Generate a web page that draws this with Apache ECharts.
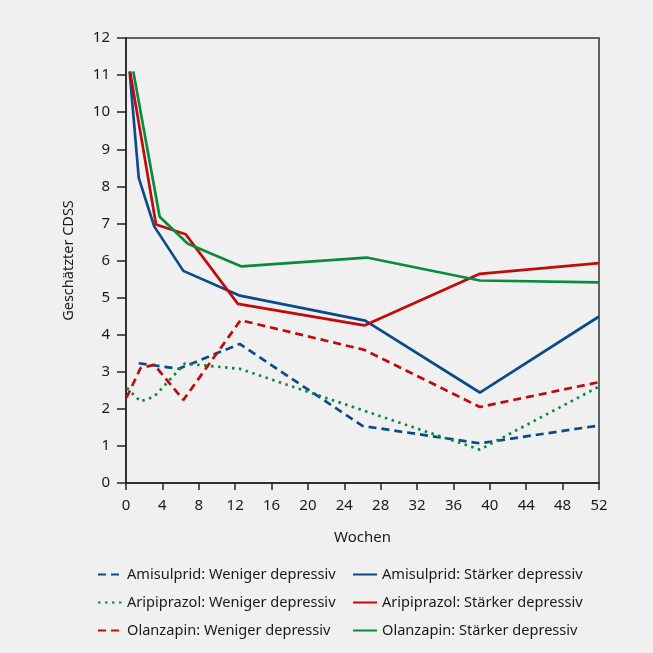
<!DOCTYPE html>
<html><head><meta charset="utf-8">
<script src="https://cdn.jsdelivr.net/npm/echarts@6/dist/echarts.min.js"></script>
<style>html,body{margin:0;padding:0;background:#f0f0f0;}#c{width:653px;height:653px;}</style>
</head><body><div id="c"></div>
<script>
// Data: [week, estimated CDSS]
const amisulpridWeniger = [[1.4,3.23],[5.8,3.08],[12.5,3.75],[26.0,1.54],[38.9,1.07],[52,1.55]];
const aripiprazolWeniger = [[0.1,2.56],[1.6,2.2],[3.1,2.33],[6.45,3.22],[12.5,3.08],[26.4,1.93],[38.9,0.9],[52,2.6]];
const olanzapinWeniger = [[0.05,2.3],[1.6,3.1],[3.1,3.19],[6.3,2.24],[12.6,4.39],[26.2,3.59],[38.9,2.05],[52,2.72]];
const amisulpridStaerker = [[0.4,11.1],[1.4,8.23],[3.1,6.92],[6.3,5.72],[12.4,5.06],[26.3,4.38],[38.9,2.44],[52,4.49]];
const aripiprazolStaerker = [[0.45,11.09],[3.3,6.97],[6.55,6.71],[12.3,4.83],[26.2,4.25],[38.9,5.64],[52,5.93]];
const olanzapinStaerker = [[0.8,11.1],[3.7,7.18],[6.8,6.45],[12.7,5.84],[26.45,6.08],[38.9,5.46],[52,5.41]];
const names = ['Amisulprid: Weniger depressiv','Aripiprazol: Weniger depressiv','Olanzapin: Weniger depressiv',
               'Amisulprid: Stärker depressiv','Aripiprazol: Stärker depressiv','Olanzapin: Stärker depressiv'];

const BLUE='#0b4a8b', RED='#c20a0a', GREEN='#0a8a3c';
const FONT='Noto Sans';
function s(name,data,color,type){
  return {name:name,type:'line',data:data,symbol:'none',smooth:false,
    lineStyle:{color:color,width:2.7,type:type},itemStyle:{color:color},z:type==='solid'?3:2};
}
const chart=echarts.init(document.getElementById('c'));
const legText={color:'#1a1a1a',fontSize:14.6,fontFamily:FONT};
const legCommon={orient:'vertical',top:562,itemWidth:24,itemHeight:14,itemGap:13,textStyle:legText,
  itemStyle:{color:'transparent',borderWidth:0,opacity:0}};
chart.setOption({
  backgroundColor:'#f0f0f0',
  animation:false,
  grid:{left:126,right:54,top:38,bottom:170,show:true,borderColor:'#333',borderWidth:1.5,backgroundColor:'transparent'},
  xAxis:{type:'value',min:0,max:52,interval:4,name:'Wochen',nameLocation:'middle',nameGap:47,
    nameTextStyle:{color:'#1a1a1a',fontSize:15,fontFamily:FONT},
    axisLine:{lineStyle:{color:'#222',width:1.5}},axisTick:{show:true,length:7,lineStyle:{color:'#222',width:1.5}},
    axisLabel:{color:'#1a1a1a',fontSize:15,fontFamily:FONT,margin:15},splitLine:{show:false}},
  yAxis:{type:'value',min:0,max:12,interval:1,name:'Geschätzter CDSS',nameLocation:'middle',nameGap:50,
    nameTextStyle:{color:'#1a1a1a',fontSize:14.5,fontFamily:FONT},
    axisLine:{show:true,lineStyle:{color:'#222',width:1.5}},axisTick:{show:true,length:9,lineStyle:{color:'#222',width:1.5}},
    axisLabel:{color:'#1a1a1a',fontSize:15,fontFamily:FONT,margin:16},splitLine:{show:false}},
  legend:[
    Object.assign({data:names.slice(0,3),left:92},legCommon),
    Object.assign({data:names.slice(3),left:347},legCommon)
  ],
  series:[
    s(names[0],amisulpridWeniger,BLUE,[8,5]),
    s(names[1],aripiprazolWeniger,GREEN,[2.5,4.5]),
    s(names[2],olanzapinWeniger,RED,[8,5]),
    s(names[3],amisulpridStaerker,BLUE,'solid'),
    s(names[4],aripiprazolStaerker,RED,'solid'),
    s(names[5],olanzapinStaerker,GREEN,'solid')
  ]
});
</script></body></html>
